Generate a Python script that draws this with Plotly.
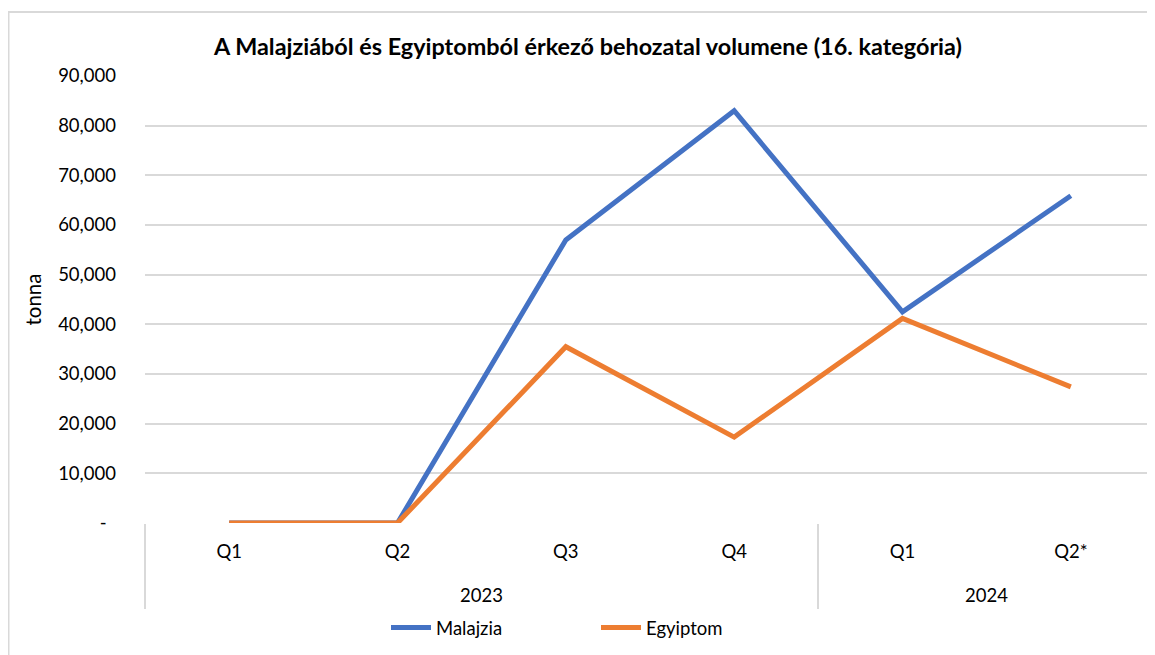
import plotly.graph_objects as go

years = ["2023", "2024"]
year_quarter_counts = [4, 2]
quarters = ["Q1", "Q2", "Q3", "Q4", "Q1", "Q2*"]
malajzia = [0, 0, 57000, 83000, 42500, 65900]
egyiptom = [0, 0, 35500, 17300, 41200, 27400]
y_ticks = [0, 10000, 20000, 30000, 40000, 50000, 60000, 70000, 80000, 90000]
y_ticktext = ["-  ", "10,000", "20,000", "30,000", "40,000", "50,000", "60,000", "70,000", "80,000", "90,000"]

FONT = "Lato"
# the page places the figure 8px from the top-left corner of the window
W, H = 1147, 647
ML, MR, MT, MB = 137, 0, 68, 132

x_idx = list(range(len(quarters)))

fig = go.Figure()
fig.add_trace(go.Scatter(x=x_idx, y=malajzia, name="Malajzia", mode="lines",
                         line=dict(color="#4472C4", width=5)))
fig.add_trace(go.Scatter(x=x_idx, y=egyiptom, name="Egyiptom", mode="lines",
                         line=dict(color="#ED7D31", width=5)))

pw = W - ML - MR
ph = H - MT - MB
def px2x(px):
    return (px - ML) / pw
def py2y(py):
    return (H - MB - py) / ph

# group boundaries and centres (in category index units)
bounds = [-0.5]
centres = []
for n in year_quarter_counts:
    start = bounds[-1]
    bounds.append(start + n)
    centres.append(start + n / 2)

for yr, c in zip(years, centres):
    fig.add_annotation(x=c, xref="x", y=py2y(587), yref="paper", text=yr,
                       showarrow=False, yanchor="middle", xanchor="center",
                       font=dict(family=FONT, size=18.5, color="#000000"))

fig.update_layout(
    width=W, height=H,
    margin=dict(l=ML, r=MR, t=MT, b=MB, autoexpand=False),
    paper_bgcolor="white", plot_bgcolor="white",
    font=dict(family=FONT, size=18.5, color="#000000"),
    title=dict(text="<b>A Malajziából és Egyiptomból érkező behozatal volumene (16. kategória)</b>",
               x=px2x(580), xref="paper", xanchor="center",
               y=1 - 39 / H, yref="container", yanchor="middle",
               font=dict(family=FONT, size=23.4, color="#000000")),
    showlegend=True,
    legend=dict(orientation="h", x=px2x(378), xref="paper", xanchor="left",
                y=1 - 620 / H, yref="container", yanchor="middle",
                font=dict(family=FONT, size=18.5), itemwidth=40,
                entrywidth=155, entrywidthmode="pixels"),
    xaxis=dict(range=[-0.5, 5.5], tickvals=x_idx, ticktext=quarters,
               showgrid=False, showline=False, zeroline=False, ticks="",
               ticklabelstandoff=15, automargin=False,
               minor=dict(tickvals=bounds, ticks="outside", ticklen=85,
                          tickcolor="#d9d9d9", tickwidth=2, showgrid=False),
               tickfont=dict(family=FONT, size=18.5)),
    yaxis=dict(range=[0, 90000], tickvals=y_ticks, ticktext=y_ticktext,
               showgrid=True, gridcolor="#d9d9d9", gridwidth=1.5, zeroline=False,
               showline=False, ticks="", ticklabelstandoff=28, automargin=False,
               title=dict(text="tonna", font=dict(family=FONT, size=20.5), standoff=10),
               tickfont=dict(family=FONT, size=18.5)),
)

fig.add_shape(type="rect", xref="paper", yref="paper",
              x0=px2x(0.5), x1=px2x(1160), y0=py2y(670), y1=py2y(4),
              line=dict(color="#d9d9d9", width=2), fillcolor="rgba(0,0,0,0)", layer="below")

fig.write_html("out.html")
